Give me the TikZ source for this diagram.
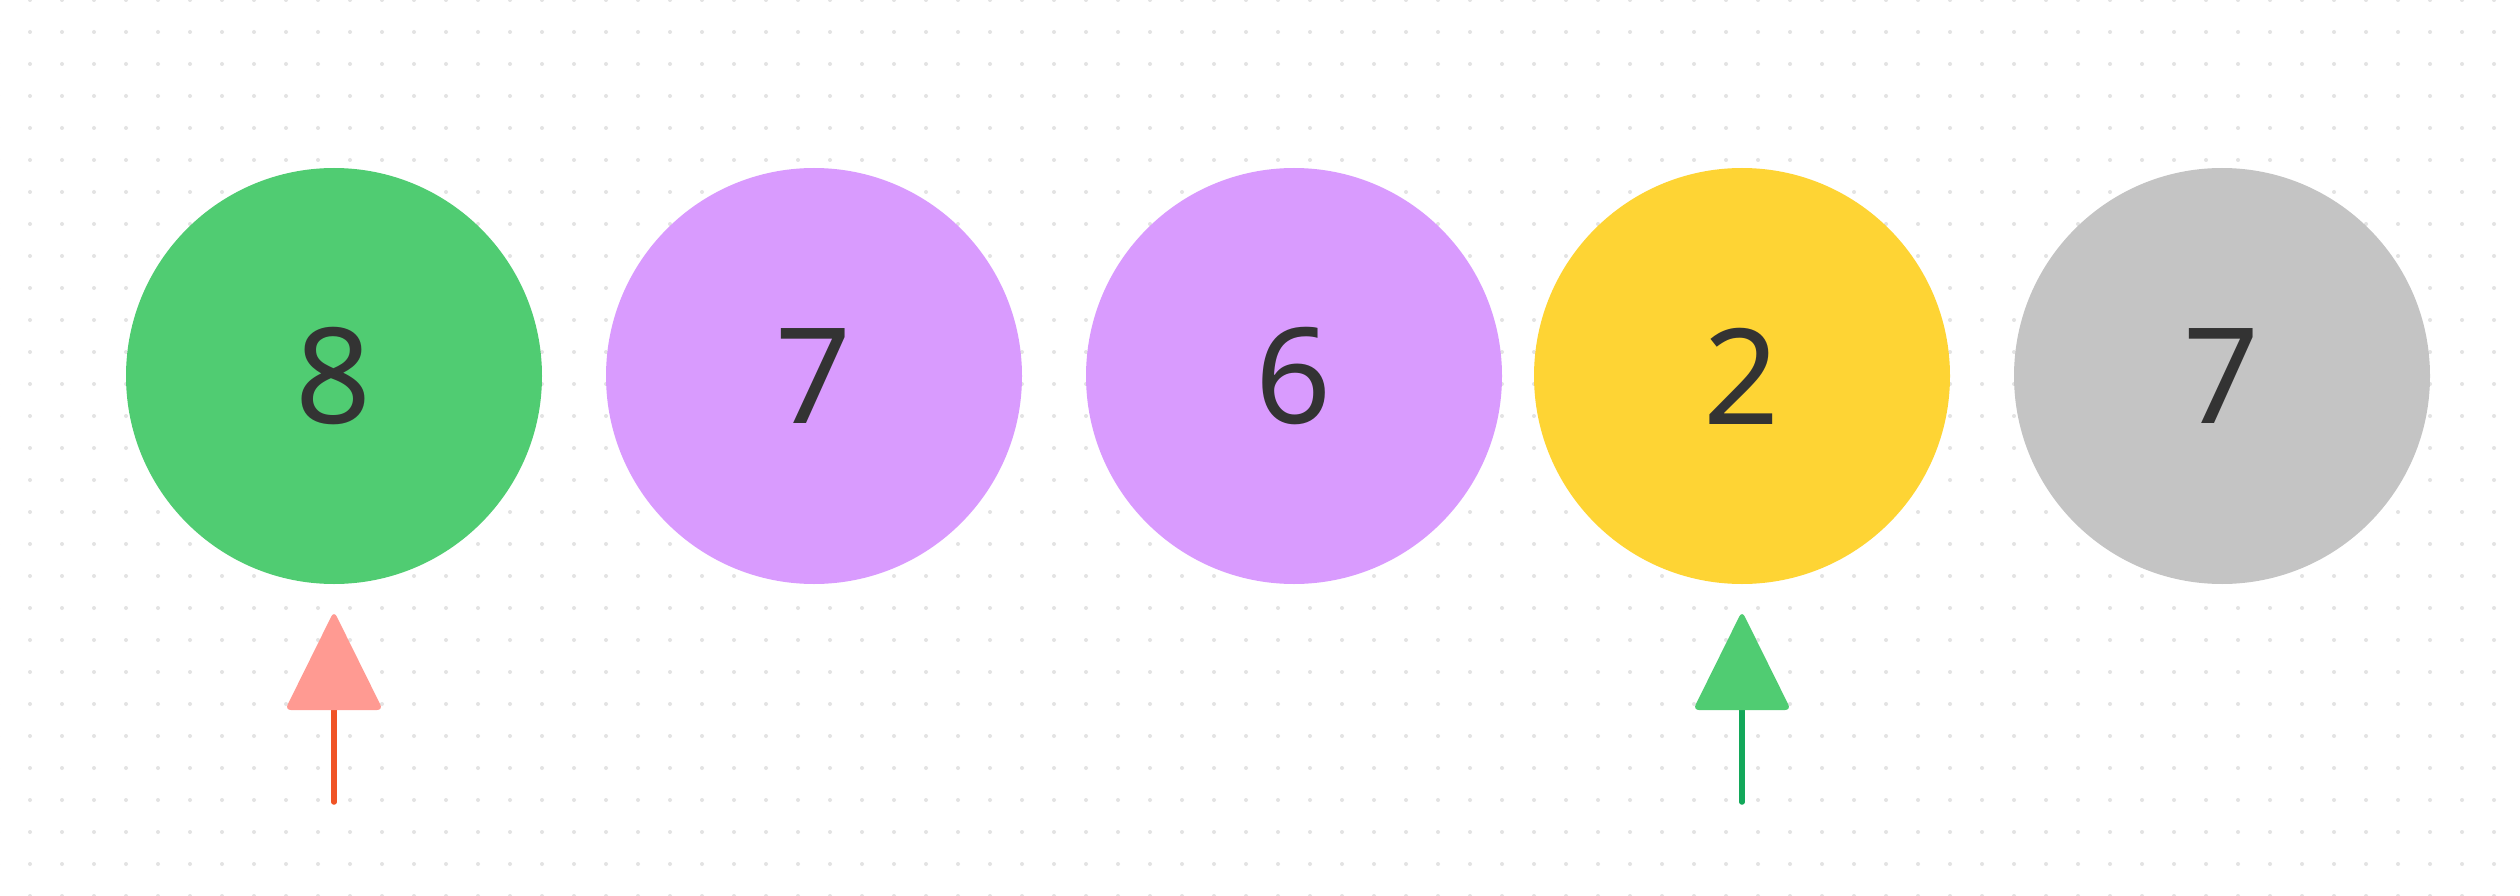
\documentclass[tikz,border=0pt]{standalone}
\usepackage{fontspec}
\setmainfont{Noto Sans}
\usetikzlibrary{calc}
\definecolor{cgreen}{HTML}{50CC72}
\definecolor{cpurple}{HTML}{D99BFE}
\definecolor{cyellow}{HTML}{FED434}
\definecolor{cgray}{HTML}{C4C4C4}
\definecolor{ctext}{HTML}{333333}
\definecolor{cdot}{HTML}{E3E3E3}
\definecolor{ptrredhead}{HTML}{FF9A92}
\definecolor{ptrredline}{HTML}{F05426}
\definecolor{ptrgreenline}{HTML}{13A85A}
\tikzset{
  ball/.style={circle, minimum size=416pt, inner sep=0pt, text=ctext,
    font=\fontsize{133}{140}\selectfont},
  ptrline/.style={line width=5.5pt, line cap=round},
  ptrhead/.style={rounded corners=6pt},
}
\begin{document}
\begin{tikzpicture}[x=1pt,y=-1pt]
\useasboundingbox (0,0) rectangle (2520,896);
\fill[white] (0,0) rectangle (2520,896);
\foreach \gx in {-2,30,...,2526}{
  \foreach \gy in {0,32,...,896}{
    \fill[cdot] (\gx,\gy) circle (2);
  }
}
\node[ball, fill=cgreen]  (b1) at (334,376) {8};
\node[ball, fill=cpurple] (b2) at (814,376) {7};
\node[ball, fill=cpurple] (b3) at (1294,376) {6};
\node[ball, fill=cyellow] (b4) at (1742,376) {2};
\node[ball, fill=cgray]   (b5) at (2222,376) {7};
% pointer 1
\coordinate (p1tip) at (334,611);
\coordinate (p1base) at (334,710);
\coordinate (p1tail) at (334,802);
\draw[ptrline, ptrredline] (p1tail) -- (p1base);
\fill[ptrhead, ptrredhead] (p1tip) -- ($(p1base)+(49,0)$) -- ($(p1base)+(-49,0)$) -- cycle;
% pointer 2
\coordinate (p2tip) at (1742,611);
\coordinate (p2base) at (1742,710);
\coordinate (p2tail) at (1742,802);
\draw[ptrline, ptrgreenline] (p2tail) -- (p2base);
\fill[ptrhead, cgreen] (p2tip) -- ($(p2base)+(49,0)$) -- ($(p2base)+(-49,0)$) -- cycle;
\end{tikzpicture}
\end{document}
